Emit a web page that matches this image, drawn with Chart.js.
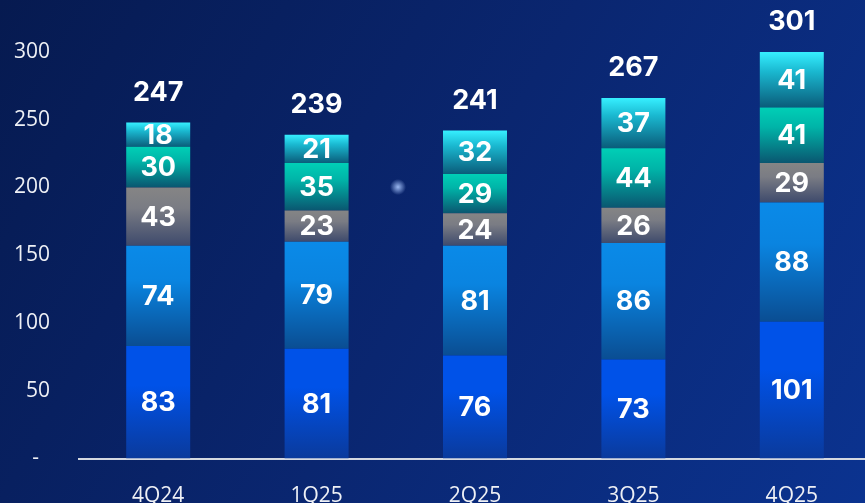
<!DOCTYPE html>
<html>
<head>
<meta charset="utf-8">
<script src="https://cdn.jsdelivr.net/npm/chart.js@4/dist/chart.umd.min.js"></script>
<style>
  html, body { margin: 0; padding: 0; overflow: hidden; background: #081f5e; }
  #wrap { position: relative; width: 871px; height: 503px; }
</style>
</head>
<body>
<div id="wrap"><canvas id="c" width="871" height="503"></canvas></div>
<script>
const categories = ['4Q24', '1Q25', '2Q25', '3Q25', '4Q25'];
const seriesA = [83, 81, 76, 73, 101];   // bottom, deep blue
const seriesB = [74, 79, 81, 86, 88];    // light blue
const seriesC = [43, 23, 24, 26, 29];    // gray
const seriesD = [30, 35, 29, 44, 41];    // teal
const seriesE = [18, 21, 32, 37, 41];    // cyan
const totals = [247, 239, 241, 267, 301];
const yTicks = [0, 50, 100, 150, 200, 250, 300];

const stack = [seriesA, seriesB, seriesC, seriesD, seriesE];
const gradStops = [
  ['#0052e8', '#0052e8', '#0a3a9c'],
  ['#0a8ae8', '#0a84e0', '#0a4d92'],
  ['#858585', '#7a7c84', '#3e4a6c'],
  ['#00cfb6', '#00b4a8', '#0a5670'],
  ['#36efff', '#1ab8d0', '#0a5c7a']
];

function segGradient(si) {
  return function(ctx) {
    const chart = ctx.chart;
    const y = chart.scales && chart.scales.y;
    if (!chart.chartArea || !y || ctx.dataIndex === undefined) return gradStops[si][0];
    let base = 0;
    for (let k = 0; k < si; k++) base += stack[k][ctx.dataIndex];
    const top = base + stack[si][ctx.dataIndex];
    const yTop = y.getPixelForValue(top);
    const yBot = y.getPixelForValue(base);
    if (!isFinite(yTop) || !isFinite(yBot) || yTop === yBot) return gradStops[si][0];
    const g = chart.ctx.createLinearGradient(0, yTop, 0, yBot);
    g.addColorStop(0, gradStops[si][0]);
    g.addColorStop(0.35, gradStops[si][1]);
    g.addColorStop(1, gradStops[si][2]);
    return g;
  };
}

const bgPlugin = {
  id: 'bg',
  beforeDraw(chart) {
    const c = chart.ctx;
    const w = chart.width, h = chart.height;
    c.save();
    const g = c.createLinearGradient(0, 0, w, h);
    g.addColorStop(0, '#061a50');
    g.addColorStop(0.5, '#0a2670');
    g.addColorStop(1, '#0b3390');
    c.fillStyle = g;
    c.fillRect(0, 0, w, h);
    const r = c.createRadialGradient(398, 187, 0, 398, 187, 8);
    r.addColorStop(0, 'rgba(170,200,255,0.9)');
    r.addColorStop(1, 'rgba(170,200,255,0)');
    c.fillStyle = r;
    c.fillRect(380, 170, 36, 36);
    c.restore();
  }
};

const labelPlugin = {
  id: 'labels',
  afterDatasetsDraw(chart) {
    const c = chart.ctx;
    c.save();
    c.fillStyle = '#ffffff';
    c.textAlign = 'center';
    c.textBaseline = 'middle';
    c.font = '700 27px Inter';
    chart.data.datasets.forEach((ds, di) => {
      const meta = chart.getDatasetMeta(di);
      meta.data.forEach((el, i) => {
        c.fillText(String(ds.data[i]), el.x, (el.y + el.base) / 2 + 1);
      });
    });
    const topMeta = chart.getDatasetMeta(chart.data.datasets.length - 1);
    topMeta.data.forEach((el, i) => {
      c.fillText(String(totals[i]), el.x, el.y - 30);
    });
    c.restore();
  }
};

new Chart(document.getElementById('c'), {
  type: 'bar',
  data: {
    labels: categories,
    datasets: stack.map((arr, si) => ({
      data: arr,
      backgroundColor: segGradient(si),
      borderWidth: 0,
      barPercentage: 0.404,
      categoryPercentage: 1
    }))
  },
  options: {
    responsive: false,
    animation: false,
    devicePixelRatio: 1,
    layout: { padding: { top: 52, right: 0, left: 0, bottom: 0 } },
    plugins: { legend: { display: false }, tooltip: { enabled: false } },
    scales: {
      x: {
        stacked: true,
        grid: { display: false, drawTicks: false },
        border: { display: true, color: '#d4d8e0', width: 2 },
        ticks: { color: '#eef0f5', font: { family: 'Open Sans', size: 21 }, padding: 25 },
        afterFit(s) { s.height = 44.5; }
      },
      y: {
        stacked: true,
        min: 0, max: 300,
        afterBuildTicks(s) { s.ticks = yTicks.map(v => ({ value: v })); },
        grid: { display: false, drawTicks: false },
        border: { display: false },
        ticks: {
          color: '#eef0f5',
          font: { family: 'Open Sans', size: 21 },
          padding: 29,
          callback: (v) => v === 0 ? '-  ' : String(v)
        },
        afterFit(s) { s.width = 79; }
      }
    }
  },
  plugins: [bgPlugin, labelPlugin]
});
</script>
</body>
</html>
